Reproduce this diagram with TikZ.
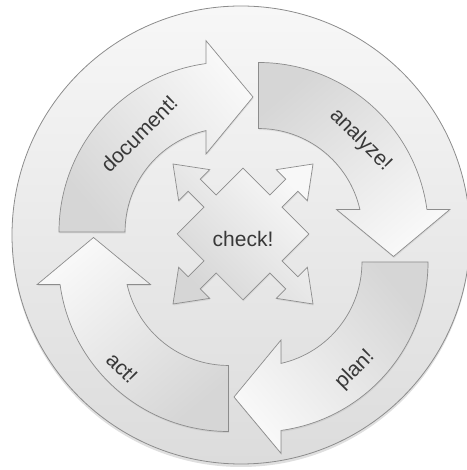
\documentclass[tikz,border=0pt]{standalone}
\usepackage{fontspec}
\setmainfont{Liberation Sans}
\usetikzlibrary{shadows}
\definecolor{edgegray}{HTML}{8C8C8C}
\definecolor{hi}{HTML}{F8F8F8}
\definecolor{lo}{HTML}{D6D6D6}
\definecolor{bghi}{HTML}{F7F7F7}
\definecolor{bglo}{HTML}{DCDCDC}
\definecolor{txt}{HTML}{383838}
\begin{document}
\begin{tikzpicture}[x=1pt,y=1pt,
  ringbg/.style={draw=edgegray, line width=0.8pt, top color=bghi, bottom color=bglo,
    drop shadow={shadow xshift=0pt, shadow yshift=-3pt, opacity=0.25}},
  cyclearrow/.style={draw=edgegray, line width=0.7pt, line join=miter,
    drop shadow={shadow xshift=0.5pt, shadow yshift=-1.5pt, opacity=0.15}},
  crossarrow/.style={draw=edgegray, line width=0.7pt, line join=miter,
    drop shadow={shadow xshift=0.5pt, shadow yshift=-1.5pt, opacity=0.15}},
  lbl/.style={font=\fontsize{21}{24}\selectfont, text=txt, inner sep=0pt}]
\useasboundingbox (0,0) rectangle (466,470);
% background disc
\path[ringbg] (241,235) circle[radius=229pt];
% four curved arrows
\begin{scope}[shift={(243.5,223)}]
\path[cyclearrow, top color=hi, bottom color=lo, shading angle=-50]
  (-184.5,15) arc[start angle=180,end angle=97.8,radius=170pt]
  -- (-37.5,206.3) -- (9.5,150) -- (-37.5,93) -- (-37.5,116.4)
  arc[start angle=102.8,end angle=180,radius=104pt] -- cycle;
\path[cyclearrow, top color=hi, bottom color=lo, shading angle=-140]
  (15,184.5) arc[start angle=90,end angle=7.8,radius=170pt]
  -- (206.3,37.5) -- (150,-9.5) -- (93,37.5) -- (116.4,37.5)
  arc[start angle=12.8,end angle=90,radius=104pt] -- cycle;
\path[cyclearrow, top color=hi, bottom color=lo, shading angle=130]
  (184.5,-15) arc[start angle=0,end angle=-82.2,radius=170pt]
  -- (37.5,-206.3) -- (-9.5,-150) -- (37.5,-93) -- (37.5,-116.4)
  arc[start angle=-77.2,end angle=0,radius=104pt] -- cycle;
\path[cyclearrow, top color=hi, bottom color=lo, shading angle=40]
  (-15,-184.5) arc[start angle=-90,end angle=-172.2,radius=170pt]
  -- (-206.3,-37.5) -- (-150,9.5) -- (-93,-37.5) -- (-116.4,-37.5)
  arc[start angle=-167.2,end angle=-90,radius=104pt] -- cycle;
\end{scope}
% central four-way arrow
\begin{scope}[shift={(243,236)}, rotate=45]
\path[crossarrow, top color=hi, bottom color=lo, shading angle=-45]
  (46.5,-8.5) -- (69,-8.5) -- (69,-22) -- (99,0) -- (69,22) -- (69,8.5) -- (46.5,8.5)
  -- (46.5,46.5) -- (8.5,46.5) -- (8.5,69) -- (22,69) -- (0,99) -- (-22,69) -- (-8.5,69)
  -- (-8.5,46.5) -- (-46.5,46.5) -- (-46.5,8.5) -- (-69,8.5) -- (-69,22) -- (-99,0)
  -- (-69,-22) -- (-69,-8.5) -- (-46.5,-8.5) -- (-46.5,-46.5) -- (-8.5,-46.5)
  -- (-8.5,-69) -- (-22,-69) -- (0,-99) -- (22,-69) -- (8.5,-69) -- (8.5,-46.5)
  -- (46.5,-46.5) -- cycle;
\end{scope}
% labels
\node[lbl, rotate=45]  (document) at (139,336) {document!};
\node[lbl, rotate=-45] (analyze)  at (360.5,330) {analyze!};
\node[lbl, rotate=45]  (plan)     at (355,100) {plan!};
\node[lbl, rotate=-45] (act)      at (122,102) {act!};
\node[lbl]             (check)    at (243,231) {check!};
\end{tikzpicture}
\end{document}
